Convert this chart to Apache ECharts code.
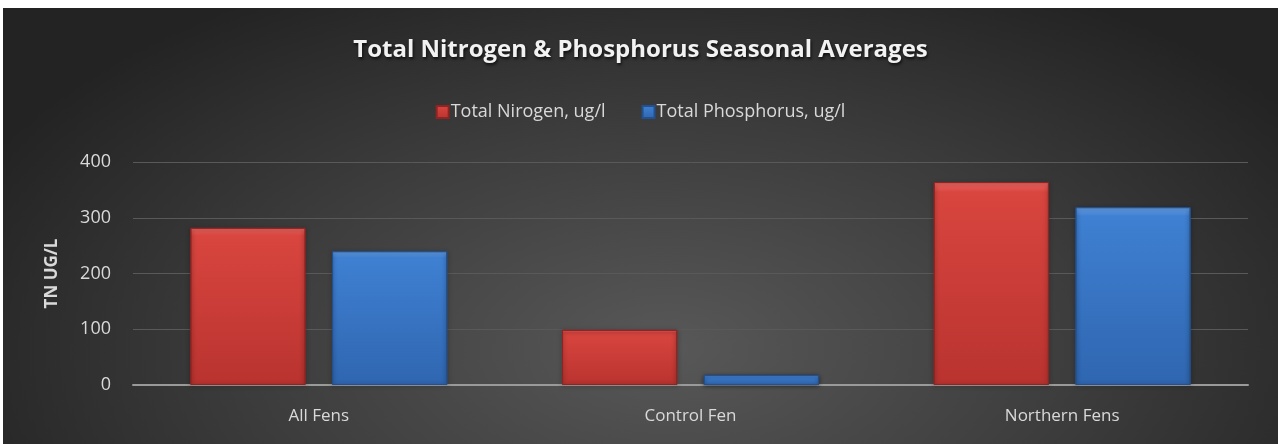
<!DOCTYPE html>
<html>
<head>
<meta charset="utf-8">
<script src="https://cdn.jsdelivr.net/npm/echarts@6/dist/echarts.min.js"></script>
<style>
  html, body { margin: 0; padding: 0; background: #ffffff; }
  #chart {
    position: absolute; left: 3px; top: 8px; width: 1275px; height: 436px;
    background: radial-gradient(ellipse 60% 95% at 52% 78%, #585858 0%, #3c3c3c 55%, #232323 100%);
  }
</style>
</head>
<body>
<div id="chart"></div>
<script>
var categories = ['All Fens', 'Control Fen', 'Northern Fens'];
var seriesNames = ['Total Nirogen, ug/l', 'Total Phosphorus, ug/l'];
var nitrogen = [282, 99, 364];
var phosphorus = [240, 18, 319];
var yTicks = [0, 100, 200, 300, 400];

var myChart = echarts.init(document.getElementById('chart'));

function bevel (light, mid, dark) {
  return {
    type: 'linear', x: 0, y: 0, x2: 0, y2: 1,
    colorStops: [
      {offset: 0, color: light},
      {offset: 0.05, color: mid},
      {offset: 1, color: dark}
    ]
  };
}

var option = {
  backgroundColor: 'transparent',
  title: {
    text: 'Total Nitrogen & Phosphorus Seasonal Averages',
    left: 'center',
    top: 25,
    textStyle: {
      color: '#f2f2f2',
      fontFamily: 'Open Sans',
      fontWeight: 'bold',
      fontSize: 24,
      textShadowColor: 'rgba(0,0,0,0.7)',
      textShadowBlur: 3,
      textShadowOffsetX: 1,
      textShadowOffsetY: 2
    }
  },
  legend: {
    top: 90,
    left: 'center',
    itemWidth: 12,
    itemHeight: 12,
    itemGap: 36,
    icon: 'rect',
    data: seriesNames,
    textStyle: {
      color: '#d9d9d9',
      fontFamily: 'Open Sans',
      fontSize: 18,
      padding: [0, 0, 0, -3]
    }
  },
  grid: {
    left: 130,
    right: 30,
    top: 154,
    bottom: 59,
    containLabel: false
  },
  xAxis: {
    type: 'category',
    data: categories,
    axisTick: {show: false},
    axisLine: {show: true, lineStyle: {color: '#9a9a9a', width: 2}},
    axisLabel: {
      color: '#d9d9d9',
      fontFamily: 'Open Sans',
      fontSize: 17,
      margin: 23
    }
  },
  yAxis: {
    type: 'value',
    min: yTicks[0],
    max: yTicks[yTicks.length - 1],
    interval: 100,
    name: 'TN UG/L',
    nameLocation: 'middle',
    nameGap: 72,
    nameTextStyle: {
      color: '#d9d9d9',
      fontFamily: 'Open Sans',
      fontWeight: 'bold',
      fontSize: 17
    },
    axisLine: {show: false},
    axisTick: {show: false},
    axisLabel: {
      color: '#d9d9d9',
      fontFamily: 'Open Sans',
      fontSize: 18,
      margin: 22
    },
    splitLine: {lineStyle: {color: '#595959', width: 1}}
  },
  series: [
    {
      name: seriesNames[0],
      type: 'bar',
      data: nitrogen,
      barWidth: '31%',
      barGap: '23%',
      itemStyle: {
        color: bevel('#ee6a65', '#d9453f', '#b9332f'),
        borderColor: '#8e2522',
        borderWidth: 1,
        shadowColor: 'rgba(0,0,0,0.5)',
        shadowBlur: 4,
        shadowOffsetY: 1
      }
    },
    {
      name: seriesNames[1],
      type: 'bar',
      data: phosphorus,
      barWidth: '31%',
      barGap: '23%',
      itemStyle: {
        color: bevel('#6aa6ee', '#3f80d2', '#2f66b0'),
        borderColor: '#23508e',
        borderWidth: 1,
        shadowColor: 'rgba(0,0,0,0.5)',
        shadowBlur: 4,
        shadowOffsetY: 1
      }
    }
  ]
};

myChart.setOption(option);
</script>
</body>
</html>
